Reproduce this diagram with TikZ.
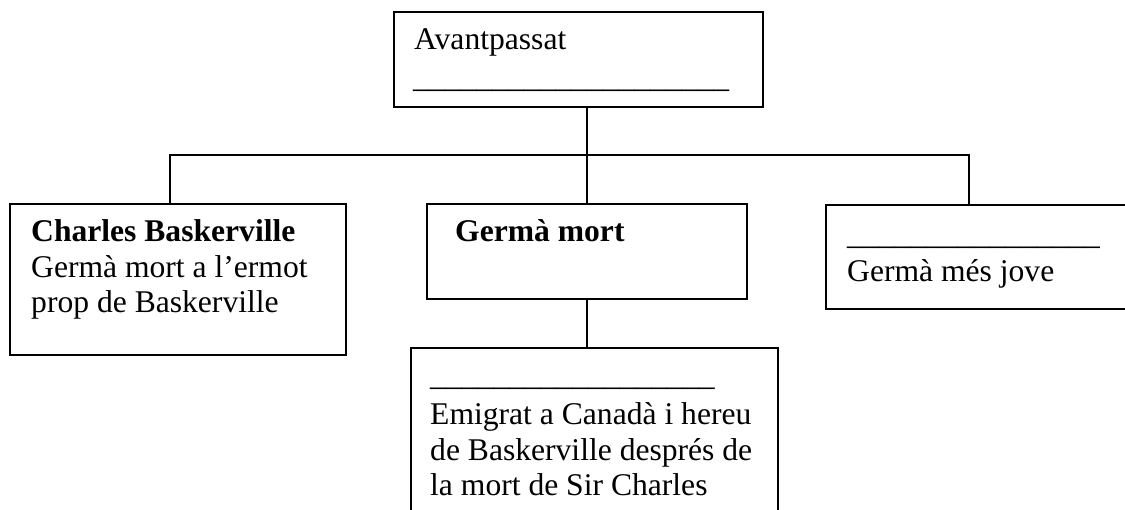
\documentclass[tikz,border=0pt]{standalone}
\usepackage{fontspec}
\setmainfont{Liberation Serif}
\begin{document}
\begin{tikzpicture}[x=1pt,y=-1pt,
  box/.style={draw, line width=1.8pt, rectangle, inner sep=0pt, anchor=north west},
  txt/.style={anchor=base west, inner sep=0pt, align=left, font=\fontsize{31.6}{35.5}\selectfont},
  link/.style={line width=1.8pt}]
\useasboundingbox (0,0) rectangle (1125,510);
\clip (0,0) rectangle (1125,510);
% boxes
\node[box, minimum width=369pt, minimum height=95pt] (top) at (393,11) {};
\node[box, minimum width=336pt, minimum height=151pt] (left) at (9,203) {};
\node[box, minimum width=320pt, minimum height=95pt] (mid) at (426,203) {};
\node[box, minimum width=320pt, minimum height=104pt] (right) at (825,204) {};
\node[box, minimum width=367pt, minimum height=180pt] (bot) at (410,347) {};
% texts (multi-line nodes: base anchor is the last line's baseline)
\node[txt] (ttop) at (414,50) {Avantpassat};
\node[txt] (utop) at (413,88) {\_\_\_\_\_\_\_\_\_\_\_\_\_\_\_\_\_\_\_\_};
\node[txt] (tleft) at (31,313) {\textbf{Charles Baskerville}\\Germà mort a l’ermot\\prop de Baskerville};
\node[txt] (tmid) at (455,242) {\textbf{Germà mort}};
\node[txt] (uright) at (847,245) {\_\_\_\_\_\_\_\_\_\_\_\_\_\_\_\_};
\node[txt] (tright) at (847,282) {Germà més jove};
\node[txt] (ubot) at (430,386) {\_\_\_\_\_\_\_\_\_\_\_\_\_\_\_\_\_\_};
\node[txt] (tbot) at (430,496) {Emigrat a Canadà i hereu\\de Baskerville després de\\la mort de Sir Charles};
% connectors
\coordinate (jl) at (170,155);
\coordinate (jr) at (969,155);
\draw[link] (top.south -| mid.north) -- (mid.north);
\draw[link] (jl |- left.north) -- (jl) -- (jr) -- (jr |- right.north);
\draw[link] (mid.south) -- (bot.north -| mid.south);
\end{tikzpicture}
\end{document}
